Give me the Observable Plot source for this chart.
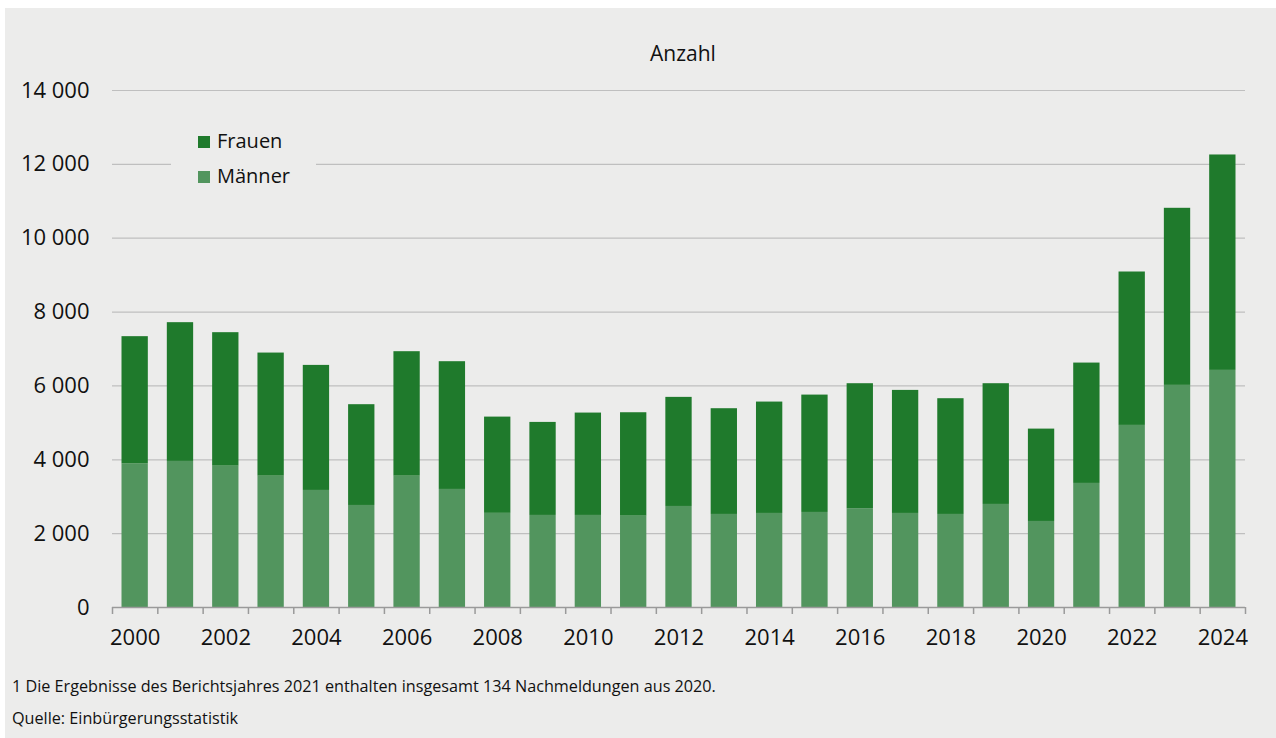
<!DOCTYPE html>
<html>
<head>
<meta charset="utf-8">
<script src="https://cdn.jsdelivr.net/npm/d3@7"></script>
<script src="https://cdn.jsdelivr.net/npm/@observablehq/plot@0.6"></script>
<style>
  html, body { margin: 0; padding: 0; background: #ffffff; }
  #panel {
    position: absolute; left: 5px; top: 8px; width: 1271px; height: 730px;
    background: #ececeb; font-family: "Open Sans", sans-serif; color: #111;
    overflow: hidden;
  }
  #title { position: absolute; left: 0; width: 1356px; top: 31px; text-align: center; font-size: 21px; line-height: 28px; }
  #chart { position: absolute; left: 0; top: 0; }
  #legend { position: absolute; left: 166px; top: 112px; width: 145px; height: 80px; background: #ececeb; }
  .li { position: absolute; left: 27px; font-size: 20px; line-height: 24px; white-space: nowrap; }
  .sw { display: inline-block; width: 12px; height: 12px; margin-right: 7px; vertical-align: 0px; }
  .foot { position: absolute; left: 7px; font-size: 16.2px; line-height: 20px; white-space: nowrap; }
</style>
</head>
<body>
<div id="panel">
  <div id="title">Anzahl</div>
  <div id="chart"></div>
  <div id="legend"></div>
  <div class="foot" style="top:668px">1 Die Ergebnisse des Berichtsjahres 2021 enthalten insgesamt 134 Nachmeldungen aus 2020.</div>
  <div class="foot" style="top:700px">Quelle: Einbürgerungsstatistik</div>
</div>
<script>
const years   = [2000, 2001, 2002, 2003, 2004, 2005, 2006, 2007, 2008, 2009, 2010, 2011, 2012, 2013, 2014, 2015, 2016, 2017, 2018, 2019, 2020, 2021, 2022, 2023, 2024];
const maenner = [3893, 3956, 3828, 3557, 3170, 2763, 3557, 3197, 2550, 2493, 2493, 2474, 2736, 2520, 2547, 2574, 2674, 2547, 2520, 2791, 2330, 3360, 4931, 6015, 6421];
const frauen  = [3441, 3757, 3614, 3333, 3386, 2729, 3370, 3459, 2606, 2519, 2772, 2800, 2954, 2863, 3016, 3178, 3386, 3332, 3134, 3269, 2501, 3259, 4154, 4795, 5833];
const seriesNames  = ["Frauen", "Männer"];
const seriesColors = ["#1f7a2c", "#52955e"];
const yTicks = [0, 2000, 4000, 6000, 8000, 10000, 12000, 14000];
const xLabelYears = [2000, 2002, 2004, 2006, 2008, 2010, 2012, 2014, 2016, 2018, 2020, 2022, 2024];

const rows = years.flatMap((y, i) => [
  {year: y, sex: "Männer", value: maenner[i]},
  {year: y, sex: "Frauen", value: frauen[i]}
]);
const boundaries = years.map(y => y - 0.5).concat([years[years.length - 1] + 0.5]);

const fmt = d3.formatLocale({decimal: ",", thousands: " ", grouping: [3], currency: ["", " €"]}).format(",d");

const chart = Plot.plot({
  width: 1271,
  height: 670,
  marginTop: 82,
  marginBottom: 71,
  marginLeft: 107,
  marginRight: 31,
  style: {background: "transparent", fontFamily: "Open Sans, sans-serif", color: "#111"},
  x: {type: "linear", domain: [years[0] - 0.5, years[years.length - 1] + 0.5], label: null},
  y: {domain: [0, 14000], label: null},
  color: {domain: seriesNames, range: seriesColors},
  marks: [
    Plot.gridY(yTicks.filter(d => d > 0), {stroke: "#bfbfbf", strokeOpacity: 1, strokeWidth: 1.2}),
    Plot.rectY(rows, Plot.stackY({
      x1: d => d.year - 0.5, x2: d => d.year + 0.5,
      y: "value", fill: "sex", insetLeft: 9.5, insetRight: 9.5
    })),
    Plot.ruleY([0], {stroke: "#9a9a9a", strokeWidth: 1.5}),
    Plot.axisX(boundaries, {tickSize: 7, tickFormat: () => "", stroke: "#9a9a9a", strokeWidth: 1.5, label: null}),
    Plot.axisX(xLabelYears, {tickSize: 0, tickPadding: 22, fontSize: 22, tickFormat: d => String(d), fill: "#111", label: null}),
    Plot.axisY(yTicks, {tickSize: 0, tickPadding: 23, fontSize: 22, tickFormat: fmt, fill: "#111", label: null})
  ]
});
document.getElementById("chart").appendChild(chart);

const legend = document.getElementById("legend");
seriesNames.forEach((name, i) => {
  const el = document.createElement("div");
  el.className = "li";
  el.style.top = (9 + i * 35) + "px";
  el.innerHTML = `<span class="sw" style="background:${seriesColors[i]}"></span>${name}`;
  legend.appendChild(el);
});
</script>
</body>
</html>
